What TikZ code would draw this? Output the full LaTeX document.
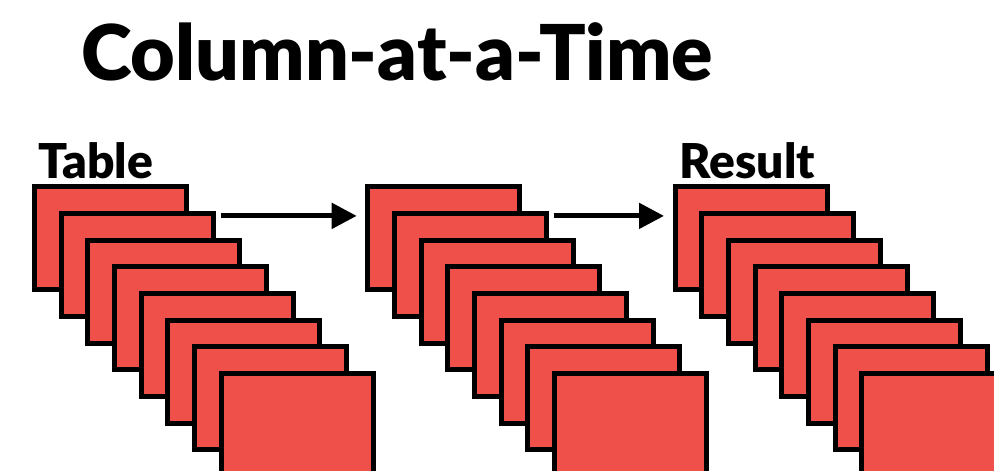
\documentclass[tikz,border=0pt]{standalone}
\usepackage{fontspec}
\setmainfont{Lato}[BoldFont={Lato Black}]
\usetikzlibrary{arrows.meta}
\definecolor{slidered}{RGB}{239,80,73}
\tikzset {>={Triangle[length=25pt,width=25pt]}}
\tikzset{
  column/.style={draw=black,fill=slidered,line width=5pt,inner sep=0pt,
    minimum width=152pt,minimum height=103pt,anchor=north west},
  stacklabel/.style={anchor=base west,inner sep=0pt,font=\bfseries\fontsize{48}{50}\selectfont}
}

\begin{document}
\begin{tikzpicture}[x=1pt,y=-1pt]
\useasboundingbox (0,0) rectangle (994,471);
\node[anchor=base west,inner sep=0pt,font=\bfseries\fontsize{77}{79}\selectfont] (title) at (81,80.7) {Column-at-a-Time};
% three stacks of columns, each one shifted down and right
\foreach \i in {1,...,8} {
  \node[column] (t\i) at ({31.8+26.7*(\i-1)},{184.2+26.7*(\i-1)}) {};
  \node[column] (s\i) at ({365.2+26.7*(\i-1)},{184.2+26.7*(\i-1)}) {};
  \node[column] (r\i) at ({672.5+26.7*(\i-1)},{184.2+26.7*(\i-1)}) {};
}
\node[stacklabel] (tlabel) at ([xshift=6pt,yshift=6pt]t1.north west) {Table};
\node[stacklabel] (rlabel) at ([xshift=7pt,yshift=6pt]r1.north west) {Result};
% arrows between the stacks
\coordinate (a1) at ([xshift=5pt,yshift=-5pt]t2.north east);
\coordinate (a2) at ([xshift=5pt,yshift=-5pt]s2.north east);
\draw[->,line width=5pt,shorten >=8.5pt] (a1) -- (a1 -| s1.west);
\draw[->,line width=5pt,shorten >=8.5pt] (a2) -- (a2 -| r1.west);
\end{tikzpicture}
\end{document}
